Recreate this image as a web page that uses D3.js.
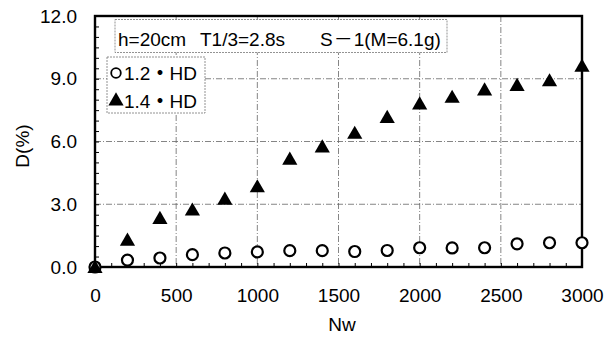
<!DOCTYPE html>
<html>
<head>
<meta charset="utf-8">
<script src="https://cdn.jsdelivr.net/npm/d3@7"></script>
<style>
  html, body { margin: 0; padding: 0; background: #fff; }
  svg { display: block; font-family: "Liberation Sans", Arial, sans-serif; }
</style>
</head>
<body>
<div id="chart"></div>
<script>
// Nw values and D(%) for each series
const nw = [0, 200, 400, 600, 800, 1000, 1200, 1400, 1600, 1800, 2000, 2200, 2400, 2600, 2800, 3000];
const hd12 = [0, 0.33, 0.43, 0.59, 0.67, 0.72, 0.78, 0.78, 0.74, 0.79, 0.92, 0.91, 0.92, 1.11, 1.16, 1.16];
const hd14 = [0, 1.3, 2.34, 2.74, 3.26, 3.85, 5.17, 5.76, 6.41, 7.17, 7.81, 8.13, 8.48, 8.70, 8.92, 9.62];
const xTicks = [0, 500, 1000, 1500, 2000, 2500, 3000];
const yTicks = [0, 3, 6, 9, 12];
const seriesNames = [['1.2', '・', 'HD'], ['1.4', '・', 'HD']];
const captionParts = ['h=20cm', 'T1/3=2.8s', 'S', '－', '1(M=6.1g)'];

const W = 616, H = 338;
const margin = { top: 16, right: 34, bottom: 71, left: 95 };
const iw = W - margin.left - margin.right;
const ih = H - margin.top - margin.bottom;
const FS = 19;
const CJK = '"Noto Sans CJK JP", sans-serif';

const svg = d3.select('#chart').append('svg').attr('width', W).attr('height', H);
const g = svg.append('g').attr('transform', `translate(${margin.left},${margin.top})`);

const x = d3.scaleLinear().domain([0, 3000]).range([0, iw]);
const y = d3.scaleLinear().domain([0, 12]).range([ih, 0]);

// grid lines (dash-dot)
g.append('g').selectAll('line')
  .data(xTicks.filter(d => d > 0 && d < 3000))
  .join('line')
  .attr('x1', d => x(d)).attr('x2', d => x(d))
  .attr('y1', 0).attr('y2', ih)
  .attr('stroke', '#666').attr('stroke-width', 0.8)
  .attr('stroke-dasharray', '6,2,1,2');
g.append('g').selectAll('line')
  .data(yTicks.filter(d => d > 0 && d < 12))
  .join('line')
  .attr('x1', 0).attr('x2', iw)
  .attr('y1', d => y(d)).attr('y2', d => y(d))
  .attr('stroke', '#666').attr('stroke-width', 0.8)
  .attr('stroke-dasharray', '6,2,1,2');

// minor ticks pointing inward
g.append('g')
  .attr('transform', `translate(0,${ih})`)
  .call(d3.axisTop(x).tickValues(d3.range(0, 3001, 100)).tickSize(4).tickFormat(''))
  .call(a => a.select('.domain').remove())
  .call(a => a.selectAll('line').attr('stroke', '#000').attr('stroke-width', 1));
g.append('g')
  .call(d3.axisRight(y).tickValues(d3.range(0, 12.01, 0.5)).tickSize(4).tickFormat(''))
  .call(a => a.select('.domain').remove())
  .call(a => a.selectAll('line').attr('stroke', '#000').attr('stroke-width', 1));

// frame
g.append('rect')
  .attr('width', iw).attr('height', ih)
  .attr('fill', 'none').attr('stroke', '#000').attr('stroke-width', 2.4);

// tick labels
const xAxis = g.append('g')
  .attr('transform', `translate(0,${ih})`)
  .call(d3.axisBottom(x).tickValues(xTicks).tickSize(0).tickPadding(22).tickFormat(d3.format('d')));
xAxis.select('.domain').remove();
xAxis.selectAll('text').attr('font-size', FS).attr('fill', '#000')
  .attr('font-family', '"Liberation Sans", Arial, sans-serif');

const yAxis = g.append('g')
  .call(d3.axisLeft(y).tickValues(yTicks).tickSize(0).tickPadding(18).tickFormat(d3.format('.1f')));
yAxis.select('.domain').remove();
yAxis.selectAll('text').attr('font-size', FS).attr('fill', '#000')
  .attr('font-family', '"Liberation Sans", Arial, sans-serif');

// axis titles
svg.append('text')
  .attr('x', 342).attr('y', 331)
  .attr('text-anchor', 'middle').attr('font-size', FS).text('Nw');
svg.append('text')
  .attr('transform', `translate(29,146) rotate(-90)`)
  .attr('text-anchor', 'middle').attr('font-size', FS).text('D(%)');

// caption box
const cap = g.append('g');
cap.append('rect')
  .attr('x', 20).attr('y', 3.5).attr('width', 332).attr('height', 33)
  .attr('fill', '#fff').attr('stroke', '#777').attr('stroke-width', 0.8)
  .attr('stroke-dasharray', '2,1');
const capText = cap.append('text').attr('y', 30).attr('font-size', FS);
capText.append('tspan').attr('x', 23).text(captionParts[0]);
capText.append('tspan').attr('x', 105).text(captionParts[1]);
capText.append('tspan').attr('x', 225).text(captionParts[2]);
capText.append('tspan').attr('dx', 1).attr('font-family', CJK).text(captionParts[3]);
capText.append('tspan').attr('dx', 1).text(captionParts[4]);

// legend box
const leg = g.append('g');
leg.append('rect')
  .attr('x', 12).attr('y', 41).attr('width', 98).attr('height', 56)
  .attr('fill', '#fff').attr('stroke', '#777').attr('stroke-width', 0.8)
  .attr('stroke-dasharray', '2,1');
leg.append('circle')
  .attr('cx', 21).attr('cy', 57).attr('r', 4.8)
  .attr('fill', '#fff').attr('stroke', '#000').attr('stroke-width', 1.8);
leg.append('path')
  .attr('d', d3.symbol(d3.symbolTriangle, 100)())
  .attr('transform', 'translate(21,85)').attr('fill', '#000');
const legText = leg.selectAll('text.lg')
  .data(seriesNames)
  .join('text')
  .attr('class', 'lg')
  .attr('x', 29).attr('y', (d, i) => 64 + i * 28)
  .attr('font-size', FS);
legText.append('tspan').text(d => d[0]);
legText.append('tspan').attr('font-family', CJK).attr('font-weight', 'bold').text(d => d[1]);
legText.append('tspan').text(d => d[2]);

// data markers
const pts12 = nw.map((d, i) => ({ x: d, y: hd12[i] }));
const pts14 = nw.map((d, i) => ({ x: d, y: hd14[i] }));

g.append('g').selectAll('circle')
  .data(pts12)
  .join('circle')
  .attr('cx', d => x(d.x)).attr('cy', d => y(d.y)).attr('r', 5.5)
  .attr('fill', '#fff').attr('stroke', '#000').attr('stroke-width', 2.2);

g.append('g').selectAll('path')
  .data(pts14)
  .join('path')
  .attr('d', d3.symbol(d3.symbolTriangle, 100)())
  .attr('transform', d => `translate(${x(d.x)},${y(d.y) + 1.5})`)
  .attr('fill', '#000');
</script>
</body>
</html>
